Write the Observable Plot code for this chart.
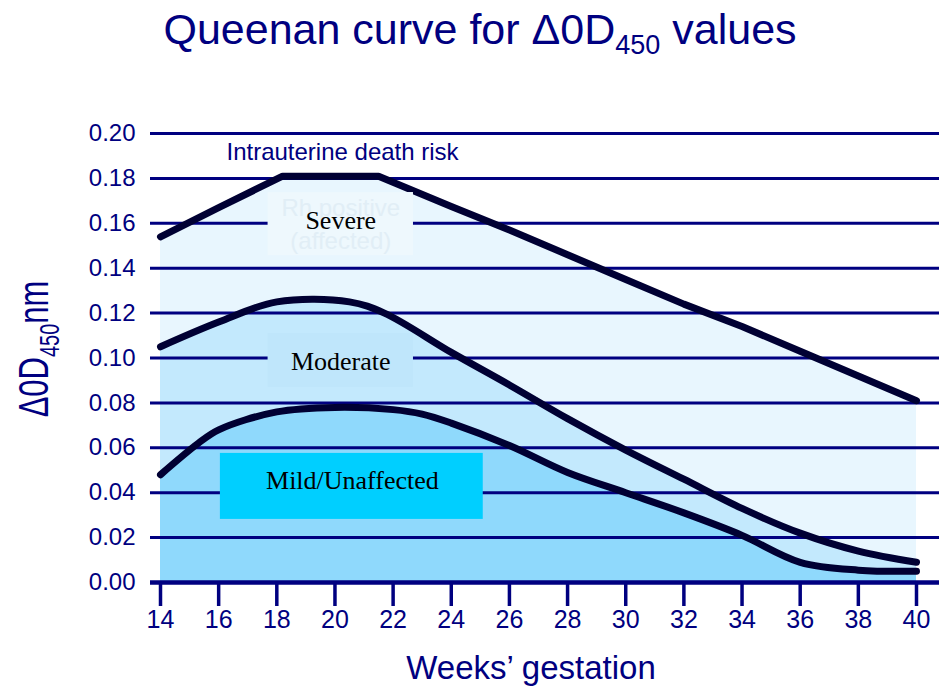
<!DOCTYPE html>
<html><head><meta charset="utf-8">
<script src="https://cdn.jsdelivr.net/npm/d3@7"></script>
<script src="https://cdn.jsdelivr.net/npm/@observablehq/plot@0.6"></script>
<style>body{margin:0;background:#fff}</style>
</head><body><div id="chart"></div>
<script>
// ---- data ----
const yTicks = [0, 0.02, 0.04, 0.06, 0.08, 0.10, 0.12, 0.14, 0.16, 0.18, 0.20];
const xTicks = [14, 16, 18, 20, 22, 24, 26, 28, 30, 32, 34, 36, 38, 40];

// Upper boundary (intrauterine death risk / severe)
const severeWeeks  = [14, 16, 18.2, 21.5, 24, 26, 28, 30, 32, 34, 36, 38, 40];
const severeValues = [0.154, 0.167, 0.181, 0.181, 0.1675, 0.157, 0.146, 0.135, 0.124, 0.114, 0.103, 0.092, 0.081];

// Middle boundary (severe / moderate)
const moderateWeeks  = [14, 16, 18, 20.5, 21.7, 24, 26, 28, 30, 32, 34, 36, 38, 40];
const moderateValues = [0.105, 0.116, 0.125, 0.125, 0.120, 0.1025, 0.088, 0.073, 0.059, 0.046, 0.033, 0.022, 0.014, 0.009];

// Lower boundary (moderate / mild-unaffected)
const mildWeeks  = [14, 15.3, 16, 18, 20, 22, 23, 24, 26, 28, 30, 32, 34, 36, 38, 40];
const mildValues = [0.048, 0.062, 0.068, 0.076, 0.078, 0.077, 0.075, 0.071, 0.061, 0.049, 0.040, 0.031, 0.021, 0.009, 0.0055, 0.005];

// zone labels (anchor week, anchor value, box extent)
const zoneNames   = ["Severe", "Moderate", "Mild/Unaffected"];
const zoneWeeks   = [20.2, 20.2, 20.6];
const zoneValues  = [0.161, 0.0984, 0.0455];
const zoneBoxWeek = [[17.7, 22.7], [17.7, 22.7], [16.06, 25.1]];
const zoneBoxOD   = [[0.1456, 0.1737], [0.0869, 0.1109], [0.0281, 0.0575]];
const zoneBoxFill = ["#eef8fd", "#bfe6fb", "#00cfff"];

const hiddenNotes = ["Rh positive", "(affected)"];
const hiddenNoteOD = [0.1665, 0.152];

const riskLabel = "Intrauterine death risk";
const riskWeek = 20.26, riskOD = 0.1915;

// ---- build ----
const navy = "#000080";
const curveInk = "#000033";
const rows = (w, v) => w.map((x, i) => ({week: x, od: v[i]}));
const severe = rows(severeWeeks, severeValues);
const moderate = rows(moderateWeeks, moderateValues);
const mild = rows(mildWeeks, mildValues);
const zones = zoneNames.map((n, i) => ({
  name: n, week: zoneWeeks[i], od: zoneValues[i],
  x1: zoneBoxWeek[i][0], x2: zoneBoxWeek[i][1], y1: zoneBoxOD[i][0], y2: zoneBoxOD[i][1], fill: zoneBoxFill[i]
}));
const notes = hiddenNotes.map((t, i) => ({t, week: zoneWeeks[0], od: hiddenNoteOD[i]}));

const chart = Plot.plot({
  width: 939, height: 690,
  marginLeft: 160, marginRight: 23, marginTop: 133, marginBottom: 108,
  style: {fontFamily: "'Liberation Sans', Arial, sans-serif", color: navy, background: "white"},
  x: {domain: [14, 40]},
  y: {domain: [0, 0.2]},
  marks: [
    Plot.areaY(severe, {x: "week", y: "od", fill: "#e8f6fe"}),
    Plot.areaY(moderate, {x: "week", y: "od", fill: "#c3e9fd", curve: "catmull-rom"}),
    Plot.areaY(mild, {x: "week", y: "od", fill: "#8fd9fc", curve: "catmull-rom"}),
    Plot.ruleY(yTicks.slice(1), {stroke: navy, strokeWidth: 3, insetLeft: -10, insetRight: -23}),
    Plot.ruleY([0], {stroke: navy, strokeWidth: 4.5, insetLeft: -10, insetRight: -23}),
    Plot.line(severe, {x: "week", y: "od", stroke: curveInk, strokeWidth: 7, strokeLinejoin: "round"}),
    Plot.line(moderate, {x: "week", y: "od", stroke: curveInk, strokeWidth: 7, curve: "catmull-rom"}),
    Plot.line(mild, {x: "week", y: "od", stroke: curveInk, strokeWidth: 7, curve: "catmull-rom"}),
    Plot.rect(zones, {x1: "x1", x2: "x2", y1: "y1", y2: "y2", fill: "fill"}),
    Plot.text(notes, {x: "week", y: "od", text: "t", fill: "#e1eef6", fontSize: 24}),
    Plot.text(zones, {x: "week", y: "od", text: "name", fill: "black", fontSize: 26, fontFamily: "'Liberation Serif', 'Times New Roman', serif"}),
    Plot.text([riskLabel], {x: riskWeek, y: riskOD, text: d => d, fill: navy, fontSize: 24}),
    Plot.axisY({ticks: yTicks, tickFormat: d3.format(".2f"), tickSize: 0, tickPadding: 25, fontSize: 24, label: null}),
    Plot.axisX({ticks: xTicks, tickSize: 24, tickPadding: 4, strokeWidth: 3.5, stroke: navy, fontSize: 25,
      fontFamily: "'Liberation Sans Narrow', 'Liberation Sans', sans-serif", label: null})
  ]
});
document.getElementById("chart").append(chart);

const svg = d3.select(chart);
const title = svg.append("text").attr("x", 480).attr("y", 44).attr("text-anchor", "middle")
  .attr("fill", navy).attr("font-size", 43).attr("font-family", "'Liberation Sans', Arial, sans-serif");
title.append("tspan").text("Queenan curve for Δ0D");
title.append("tspan").attr("font-size", 27).attr("dy", 10).text("450");
title.append("tspan").attr("dy", -10).text(" values");

const ylab = svg.append("text").attr("transform", "translate(48,349) rotate(-90) scale(1,1.35)").attr("text-anchor", "middle")
  .attr("fill", navy).attr("font-size", 31).attr("font-family", "'Liberation Sans', Arial, sans-serif");
ylab.append("tspan").text("Δ0D");
ylab.append("tspan").attr("font-size", 20).attr("dy", 8).text("450");
ylab.append("tspan").attr("dy", -8).text("nm");

svg.append("text").attr("x", 531).attr("y", 679).attr("text-anchor", "middle")
  .attr("fill", navy).attr("font-size", 33).attr("font-family", "'Liberation Sans', Arial, sans-serif")
  .text("Weeks’ gestation");
</script>
</body></html>
